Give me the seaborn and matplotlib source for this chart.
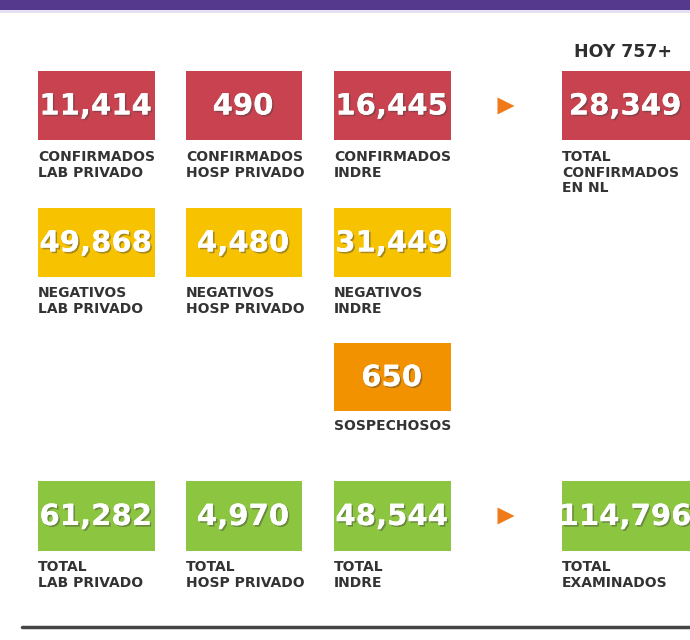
import matplotlib.pyplot as plt
import matplotlib.patheffects as pe
import seaborn as sns

# tile values per row (columns: lab privado, hosp privado, indre, total)
confirmados = [11414, 490, 16445, 28349]
negativos = [49868, 4480, 31449]
sospechosos = [650]
totales = [61282, 4970, 48544, 114796]

confirmados_lbl = ["CONFIRMADOS\nLAB PRIVADO", "CONFIRMADOS\nHOSP PRIVADO",
                   "CONFIRMADOS\nINDRE", "TOTAL\nCONFIRMADOS\nEN NL"]
negativos_lbl = ["NEGATIVOS\nLAB PRIVADO", "NEGATIVOS\nHOSP PRIVADO", "NEGATIVOS\nINDRE"]
sospechosos_lbl = ["SOSPECHOSOS"]
totales_lbl = ["TOTAL\nLAB PRIVADO", "TOTAL\nHOSP PRIVADO", "TOTAL\nINDRE", "TOTAL\nEXAMINADOS"]
hoy = "HOY 757+"

sns.set_theme(style="white")
plt.rcParams['font.family'] = ['DejaVu Sans']

fig = plt.figure(figsize=(6.9, 6.4), dpi=100)
ax = fig.add_axes([0, 0, 1, 1])
ax.set_xlim(0, 690)
ax.set_ylim(640, 0)
ax.axis("off")

# layout in pixel units
col_left = [38, 186, 334, 562]
col_width = [117, 116, 117, 128]
red, yellow, orange, green = "#c9424f", "#f7c200", "#f39200", "#8cc540"
label_color = "#333333"

shadow = [pe.withSimplePatchShadow(offset=(1.2, -1.2), shadow_rgbFace="#444444", alpha=0.45),
          pe.Normal()]


def tile_row(values, labels, cols, top, height, color, label_y):
    for v, lab, c in zip(values, labels, cols):
        x0 = col_left[c]
        w = col_width[c]
        ax.bar(x0 + w / 2, height, width=w, bottom=top, color=color, linewidth=0)
        ax.text(x0 + w / 2 - 1, top + height / 2 + 1, f"{v:,}", color="white",
                fontsize=21, fontweight="bold", family="DejaVu Sans",
                ha="center", va="center", path_effects=shadow)
        ax.text(x0, label_y, lab, color=label_color, fontsize=10,
                fontweight="bold", ha="left", va="top", linespacing=1.15)


tile_row(confirmados, confirmados_lbl, [0, 1, 2, 3], 71, 69, red, 150)
tile_row(negativos, negativos_lbl, [0, 1, 2], 208, 69, yellow, 286)
tile_row(sospechosos, sospechosos_lbl, [2], 343, 68, orange, 419)
tile_row(totales, totales_lbl, [0, 1, 2, 3], 481, 70, green, 560)

# arrows pointing to totals
sns.scatterplot(x=[506, 506], y=[106, 516], marker=">", s=150, color="#f07a1a",
                edgecolor="none", ax=ax, legend=False)

ax.text(672, 52, hoy, color="#2e2e2e", fontsize=12.5, fontweight="bold",
        ha="right", va="center")

# header band and bottom rule
ax.bar(345, 10, width=690, bottom=0, color="#55398c", linewidth=0)
ax.bar(345, 3, width=690, bottom=10, color="#e6def2", linewidth=0)
ax.plot([22, 690], [627, 627], color="#454545", linewidth=2.5)

fig.savefig("out.png", dpi=100, facecolor="white")
